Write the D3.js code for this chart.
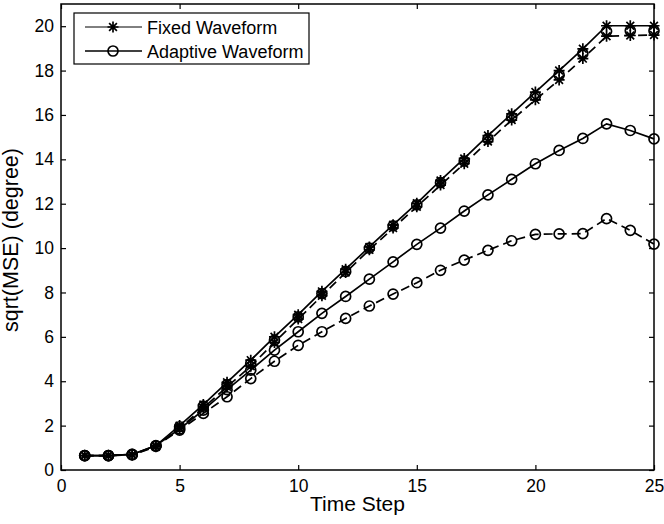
<!DOCTYPE html>
<html>
<head>
<meta charset="utf-8">
<script src="https://cdn.jsdelivr.net/npm/d3@7"></script>
<style>
  body { margin: 0; background: #fff; }
  svg text { font-family: Arial, "Liberation Sans", sans-serif; }
</style>
</head>
<body>
<svg id="chart"></svg>
<script>
// time steps 1..25
const steps = [1,2,3,4,5,6,7,8,9,10,11,12,13,14,15,16,17,18,19,20,21,22,23,24,25];

const fixedSolid = [0.65,0.65,0.70,1.10,2.00,2.95,3.95,4.95,6.00,7.00,8.05,9.05,10.05,11.05,12.02,13.05,14.04,15.07,16.05,17.03,18.00,18.98,20.02,20.02,20.02];
const fixedDashed = [0.65,0.65,0.68,1.05,1.88,2.80,3.75,4.68,5.75,6.80,7.85,8.90,9.92,10.90,11.86,12.84,13.80,14.80,15.77,16.68,17.58,18.54,19.55,19.58,19.60];
const fixedCircles = [0.65,0.65,0.70,1.08,1.95,2.88,3.85,4.80,5.85,6.90,7.95,8.95,10.00,11.00,11.95,12.95,13.92,14.92,15.90,16.85,17.80,18.77,19.77,19.80,19.80];
const adaptiveSolid = [0.65,0.65,0.70,1.10,1.85,2.70,3.62,4.50,5.40,6.23,7.06,7.82,8.60,9.38,10.17,10.90,11.67,12.40,13.10,13.80,14.40,14.94,15.60,15.30,14.92];
const adaptiveDashed = [0.65,0.65,0.68,1.08,1.80,2.55,3.30,4.12,4.90,5.62,6.23,6.83,7.39,7.93,8.44,9.00,9.46,9.90,10.33,10.62,10.64,10.65,11.33,10.80,10.18];

const xTicks = [0,5,10,15,20,25];
const yTicks = [0,2,4,6,8,10,12,14,16,18,20];
const legendLabels = ["Fixed Waveform", "Adaptive Waveform"];

const width = 664, height = 524;
const margin = {top: 4, right: 10, bottom: 54, left: 61};

const svg = d3.select("#chart")
  .attr("width", width)
  .attr("height", height);

const x = d3.scaleLinear().domain([0, 25]).range([margin.left, width - margin.right]);
const y = d3.scaleLinear().domain([0, 21]).range([height - margin.bottom, margin.top]);

const plot = svg.append("g");

// axes box with inward ticks
const tickLen = 5;
const axisStyle = g => {
  g.select(".domain").remove();
  g.selectAll(".tick line").attr("stroke", "#000").attr("stroke-width", 1.2);
  g.selectAll(".tick text").attr("font-size", 17.5).attr("fill", "#000");
};

svg.append("g")
  .attr("transform", `translate(0,${y(0)})`)
  .call(d3.axisBottom(x).tickValues(xTicks).tickSizeInner(-tickLen).tickSizeOuter(0).tickPadding(10))
  .call(axisStyle);
svg.append("g")
  .attr("transform", `translate(0,${y(21)})`)
  .call(d3.axisTop(x).tickValues(xTicks).tickSizeInner(-tickLen).tickSizeOuter(0).tickFormat(""))
  .call(axisStyle);
svg.append("g")
  .attr("transform", `translate(${x(0)},0)`)
  .call(d3.axisLeft(y).tickValues(yTicks).tickSizeInner(-tickLen).tickSizeOuter(0).tickPadding(7))
  .call(axisStyle);
svg.append("g")
  .attr("transform", `translate(${x(25)},0)`)
  .call(d3.axisRight(y).tickValues(yTicks).tickSizeInner(-tickLen).tickSizeOuter(0).tickFormat(""))
  .call(axisStyle);

svg.append("rect")
  .attr("x", x(0)).attr("y", y(21))
  .attr("width", x(25) - x(0)).attr("height", y(0) - y(21))
  .attr("fill", "none").attr("stroke", "#000").attr("stroke-width", 1.5);

// markers
function star(g, cx, cy, r) {
  const d = r * Math.SQRT1_2;
  g.append("path")
    .attr("d", `M${cx - r},${cy}H${cx + r}M${cx},${cy - r}V${cy + r}` +
               `M${cx - d},${cy - d}L${cx + d},${cy + d}M${cx - d},${cy + d}L${cx + d},${cy - d}`)
    .attr("stroke", "#000").attr("stroke-width", 1.7).attr("fill", "none");
}
function circle(g, cx, cy, r) {
  g.append("circle").attr("cx", cx).attr("cy", cy).attr("r", r)
    .attr("fill", "none").attr("stroke", "#000").attr("stroke-width", 1.7);
}

const line = d3.line().x((d, i) => x(steps[i])).y(d => y(d));

const series = [
  {values: fixedSolid, dash: null, marker: "star", line: true},
  {values: fixedDashed, dash: "9,5", marker: "star", line: true},
  {values: fixedCircles, dash: null, marker: "circle", line: false},
  {values: adaptiveSolid, dash: null, marker: "circle", line: true},
  {values: adaptiveDashed, dash: "9,5", marker: "circle", line: true}
];

series.forEach(s => {
  if (s.line) {
    plot.append("path")
      .datum(s.values)
      .attr("d", line)
      .attr("fill", "none")
      .attr("stroke", "#000")
      .attr("stroke-width", 1.7)
      .attr("stroke-dasharray", s.dash);
  }
  const mg = plot.append("g");
  s.values.forEach((v, i) => {
    if (s.marker === "star") star(mg, x(steps[i]), y(v), 5.5);
    else circle(mg, x(steps[i]), y(v), 5);
  });
});

// axis labels
svg.append("text")
  .attr("x", (x(0) + x(25)) / 2).attr("y", 511)
  .attr("text-anchor", "middle").attr("font-size", 21)
  .text("Time Step");
svg.append("text")
  .attr("transform", `translate(18,240) rotate(-90)`)
  .attr("text-anchor", "middle").attr("font-size", 21.5)
  .text("sqrt(MSE) (degree)");

// legend
const legend = svg.append("g");
legend.append("rect")
  .attr("x", 74).attr("y", 13).attr("width", 235).attr("height", 51)
  .attr("fill", "#fff").attr("stroke", "#000").attr("stroke-width", 1.2);
legendLabels.forEach((lab, i) => {
  const ly = 27 + i * 24;
  legend.append("line")
    .attr("x1", 85).attr("x2", 142).attr("y1", ly).attr("y2", ly)
    .attr("stroke", "#000").attr("stroke-width", i === 0 ? 1 : 1.7);
  if (i === 0) star(legend, 113, ly, 5.5);
  else circle(legend, 113, ly, 5);
  legend.append("text")
    .attr("x", 147).attr("y", ly + 6.5)
    .attr("font-size", 18)
    .text(lab);
});
</script>
</body>
</html>
